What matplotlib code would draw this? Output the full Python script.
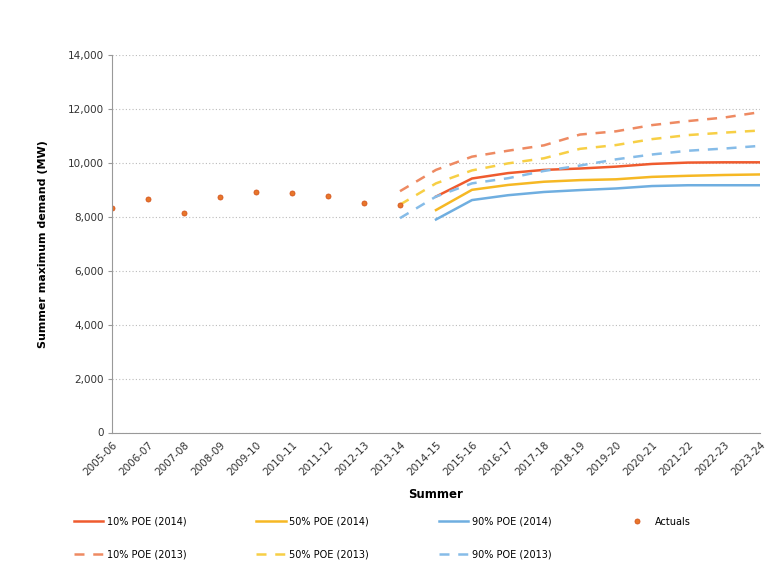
import matplotlib
matplotlib.use("Agg")
import matplotlib.pyplot as plt
import numpy as np

categories = ["2005-06", "2006-07", "2007-08", "2008-09", "2009-10", "2010-11",
              "2011-12", "2012-13", "2013-14", "2014-15", "2015-16", "2016-17",
              "2017-18", "2018-19", "2019-20", "2020-21", "2021-22", "2022-23",
              "2023-24"]

actuals = [8330, 8660, 8150, 8750, 8930, 8870, 8770, 8520, 8430]

# 2013 forecasts start at 2013-14
poe10_2013 = [8950, 9740, 10230, 10450, 10650, 11050, 11170, 11400, 11550, 11680, 11880]
poe50_2013 = [8450, 9240, 9720, 9980, 10170, 10520, 10660, 10880, 11030, 11120, 11200]
poe90_2013 = [7950, 8750, 9240, 9430, 9700, 9900, 10130, 10310, 10450, 10530, 10630]

# 2014 forecasts start at 2014-15
poe10_2014 = [8750, 9420, 9620, 9740, 9790, 9860, 9960, 10010, 10020, 10020]
poe50_2014 = [8250, 9000, 9180, 9300, 9360, 9390, 9480, 9520, 9550, 9570]
poe90_2014 = [7900, 8620, 8800, 8920, 8990, 9050, 9140, 9170, 9170, 9170]

yticks = [0, 2000, 4000, 6000, 8000, 10000, 12000, 14000]

c10 = "#EF5B2E"
c50 = "#F6B824"
c90 = "#6FAEE0"
c10d = "#EE8A62"
c50d = "#F7CF45"
c90d = "#86BCE8"
cact = "#E8762A"

fig = plt.figure(figsize=(7.74, 5.81), dpi=100)
ax = fig.add_axes([112/774, 1-432.5/581, (760-112)/774, (432.5-55)/581])

x = np.arange(len(categories))
x13 = x[8:]
x14 = x[9:]

lw = 1.8
dash = (4, 3.5)
ax.plot(x14, poe10_2014, color=c10, lw=lw, label="10% POE (2014)")
ax.plot(x13, poe10_2013, color=c10d, lw=lw, dashes=dash, label="10% POE (2013)")
ax.plot(x14, poe50_2014, color=c50, lw=lw, label="50% POE (2014)")
ax.plot(x13, poe50_2013, color=c50d, lw=lw, dashes=dash, label="50% POE (2013)")
ax.plot(x14, poe90_2014, color=c90, lw=lw, label="90% POE (2014)")
ax.plot(x13, poe90_2013, color=c90d, lw=lw, dashes=dash, label="90% POE (2013)")
ax.plot(x[:len(actuals)], actuals, linestyle="none", marker="o", markersize=3.6,
        color=cact, markeredgecolor="#D4561E", markeredgewidth=0.6, label="Actuals")

ax.set_xlim(0, len(categories) - 1)
ax.set_ylim(0, 14000)
ax.set_yticks(yticks)
ax.set_yticklabels([f"{v:,}" for v in yticks], fontsize=7.5, color="#333333")
ax.set_xticks(x)
ax.set_xticklabels(categories, rotation=45, ha="right", rotation_mode="anchor",
                   fontsize=7.5, color="#333333")
ax.tick_params(axis="both", length=3, color="#999999", pad=3)
ax.tick_params(axis="x", length=0, pad=5)

ax.grid(axis="y", linestyle=(0, (1, 2)), color="#BBBBBB", lw=0.8)
ax.set_axisbelow(True)
for s in ["top", "right"]:
    ax.spines[s].set_visible(False)
ax.spines["left"].set_color("#999999")
ax.spines["bottom"].set_color("#999999")

ax.set_xlabel("Summer", fontsize=8.5, fontweight="bold", labelpad=8)
ax.set_ylabel("Summer maximum demand (MW)", fontsize=8, fontweight="bold", labelpad=14)

handles, labels = ax.get_legend_handles_labels()
fig.legend(handles, labels, ncol=4, loc="upper left",
           bbox_to_anchor=(65/774, 1-508/581), frameon=False, fontsize=7,
           handlelength=3.0, columnspacing=7.2, labelspacing=2.3, handletextpad=0.4)

fig.savefig("out.png", dpi=100)
